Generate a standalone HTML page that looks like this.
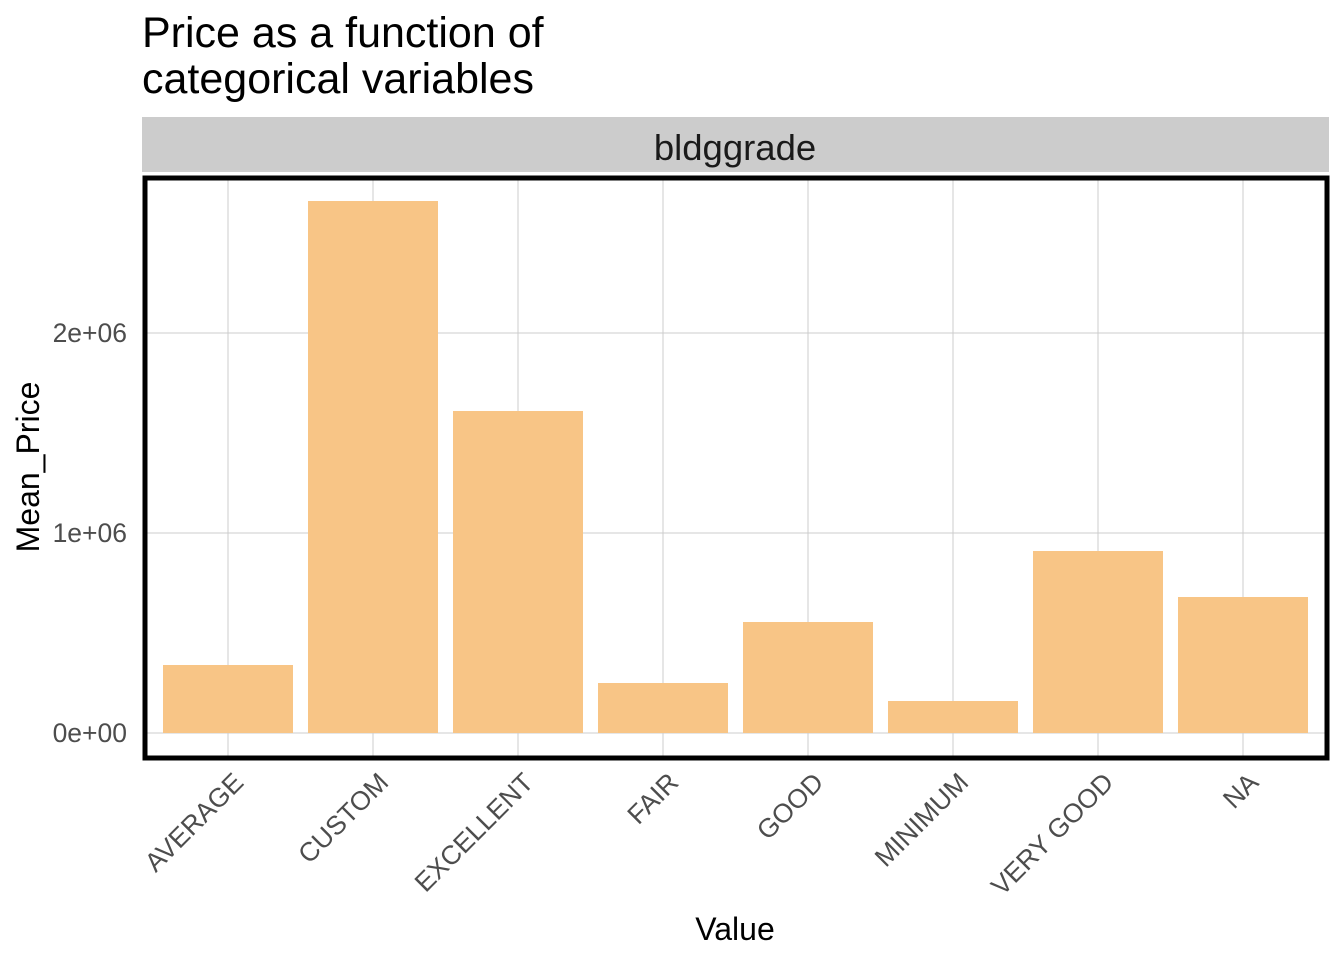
<!DOCTYPE html>
<html><head><meta charset="utf-8"><style>
html,body{margin:0;padding:0;background:#fff;}
svg{display:block;font-family:"Liberation Sans",Arial,sans-serif;}
</style></head><body>
<svg id="chart" width="1344" height="960">
<text x="142" y="47" font-size="43" fill="#000">Price as a function of</text>
<text x="142" y="93" font-size="43" fill="#000">categorical variables</text>
<rect x="142" y="117" width="1187" height="55" fill="#cccccc"/>
<text x="735" y="160" font-size="36.5" text-anchor="middle" fill="#1a1a1a">bldggrade</text>
<g id="grid"></g>
<g id="bars"></g>
<rect x="145" y="178" width="1182" height="580" fill="none" stroke="#000" stroke-width="5"/>
<g id="yticks"></g>
<g id="xticks"></g>
<text x="735" y="940" font-size="32" text-anchor="middle" fill="#000">Value</text>
<text transform="translate(39,467) rotate(-90)" font-size="32" text-anchor="middle" fill="#000">Mean_Price</text>
</svg>
<script>
const categories=["AVERAGE","CUSTOM","EXCELLENT","FAIR","GOOD","MINIMUM","VERY GOOD","NA"];
const values=[340000,2660000,1610000,250000,555000,160000,910000,680000];
const yTicks=[0,1000000,2000000];
const yTickLabels=["0e+00","1e+06","2e+06"];
const NS="http://www.w3.org/2000/svg";
const y=v=>733-v*200/1e6;
const x=i=>228+i*145;
const bw=130;
function mk(t,a,p){const e=document.createElementNS(NS,t);for(const k in a)e.setAttribute(k,a[k]);p.appendChild(e);return e;}
const grid=document.getElementById('grid'),bars=document.getElementById('bars'),yt=document.getElementById('yticks'),xt=document.getElementById('xticks');
yTicks.forEach((v,i)=>{
 const l=mk('line',{x1:147,x2:1325,y1:y(v),y2:y(v),stroke:'#cccccc','stroke-width':1},grid);
 
 
 const t=mk('text',{x:127,y:y(v)+9,'font-size':26.5,'text-anchor':'end',fill:'#4d4d4d'},yt);
 t.textContent=yTickLabels[i];
 
 
});
categories.forEach((c,i)=>{
 const l=mk('line',{x1:x(i),x2:x(i),y1:180,y2:756,stroke:'#cccccc','stroke-width':1},grid);
 
 
 const b=mk('rect',{x:x(i)-bw/2,y:y(values[i]),width:bw,height:y(0)-y(values[i]),fill:'#f8c586'},bars);
 
 
 const t=mk('text',{transform:`translate(${x(i)+17},${784}) rotate(-45)`,'font-size':26.5,'text-anchor':'end',fill:'#4d4d4d'},xt);
 t.textContent=c;
 
 
});
</script>
</body></html>
